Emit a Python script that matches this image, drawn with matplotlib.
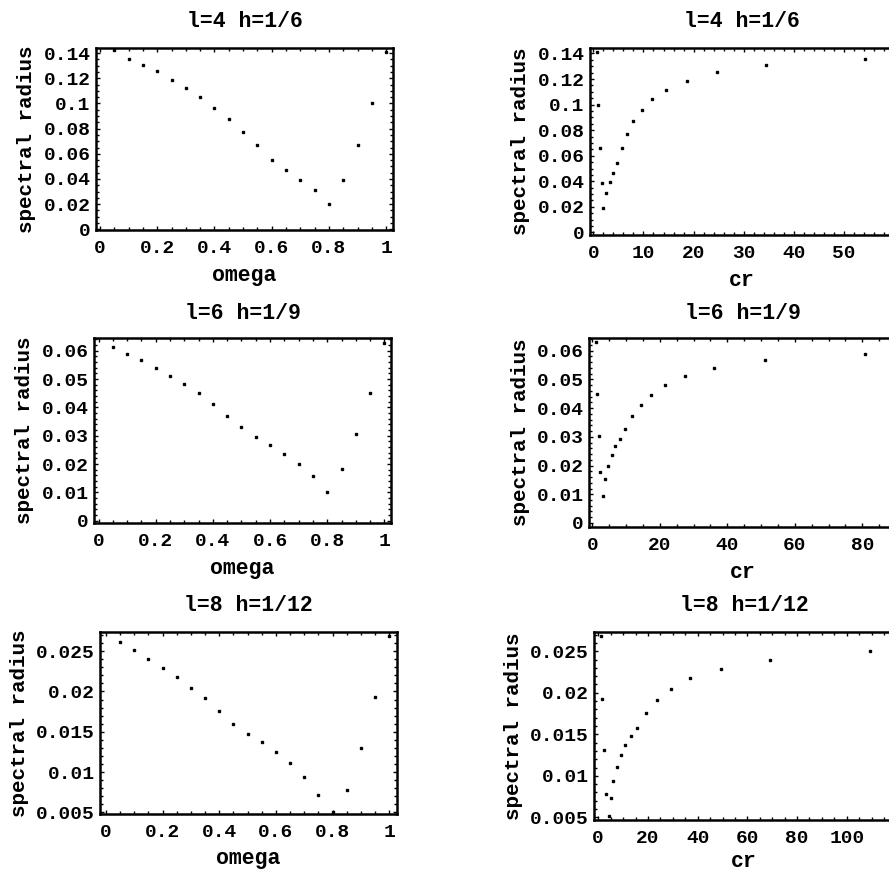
import numpy as np
import matplotlib
matplotlib.use("Agg")
import matplotlib.pyplot as plt
from matplotlib.ticker import MultipleLocator, FuncFormatter, AutoMinorLocator

plt.rcParams['font.family'] = ['Liberation Mono', 'DejaVu Sans Mono']
plt.rcParams['font.weight'] = 'bold'

# ---------------- data ----------------
omega = [0.05, 0.10, 0.15, 0.20, 0.25, 0.30, 0.35, 0.40, 0.45, 0.50,
         0.55, 0.60, 0.65, 0.70, 0.75, 0.80, 0.85, 0.90, 0.95, 1.00]

sr_l4_omega = [0.1427, 0.1355, 0.1307, 0.1254, 0.1188, 0.1119, 0.1047, 0.0963, 0.0878, 0.0774,
               0.0666, 0.0549, 0.0469, 0.0395, 0.0316, 0.0204, 0.0395, 0.0671, 0.1002, 0.1408]
sr_l6_omega = [0.0613, 0.0589, 0.0568, 0.0538, 0.0511, 0.0483, 0.0450, 0.0412, 0.0371, 0.0332,
               0.0296, 0.0269, 0.0237, 0.0200, 0.0158, 0.0102, 0.0182, 0.0305, 0.0452, 0.0629]
sr_l8_omega = [0.02615, 0.02512, 0.02409, 0.02297, 0.02182, 0.02046, 0.01914, 0.01757, 0.01592, 0.01473,
               0.0137, 0.01254, 0.0111, 0.00945, 0.00718, 0.0051, 0.0078, 0.01304, 0.01934, 0.02689]

cr_l4 = [0.67, 1.0, 1.33, 1.67, 2.0, 2.47, 3.33, 3.87, 4.67, 5.67,
         6.67, 8.0, 9.67, 11.8, 14.5, 18.7, 24.7, 34.5, 54.3]
sr_l4_cr = [0.1409, 0.0999, 0.0664, 0.0390, 0.0193, 0.0306, 0.0392, 0.0463, 0.0541, 0.0664,
            0.0769, 0.0873, 0.0959, 0.1046, 0.1116, 0.1187, 0.1252, 0.1307, 0.1359]

cr_l6 = [1.0, 1.5, 1.9, 2.3, 3.1, 3.6, 4.75, 5.7, 6.7, 8.2,
         9.7, 11.6, 14.3, 17.3, 21.6, 27.5, 36.2, 51.3, 80.7]
sr_l6_cr = [0.0630, 0.0449, 0.0302, 0.0177, 0.0095, 0.0153, 0.0197, 0.0236, 0.0267, 0.0291,
            0.0328, 0.0371, 0.0412, 0.0447, 0.0481, 0.0510, 0.0539, 0.0566, 0.0589]

cr_l8 = [1.1, 1.7, 2.4, 3.1, 4.2, 5.1, 6.0, 7.4, 9.1, 10.9,
         13.0, 15.8, 19.2, 23.5, 29.1, 36.9, 49.3, 69.1, 109.4]
sr_l8_cr = [0.02684, 0.01923, 0.0131, 0.0078, 0.0052, 0.00728, 0.00937, 0.0111, 0.0125, 0.0137,
            0.0148, 0.0158, 0.0176, 0.0191, 0.0205, 0.0218, 0.0229, 0.0240, 0.0250]

titles = ["l=4 h=1/6", "l=6 h=1/9", "l=8 h=1/12"]

# ---------------- layout ----------------
W, H = 889, 875
fig = plt.figure(figsize=(W / 100, H / 100), dpi=100)
fig.patch.set_facecolor('white')

def add_ax(left, right, top, bottom):
    return fig.add_axes([left / W, 1 - bottom / H, (right - left) / W, (bottom - top) / H])

fmt = FuncFormatter(lambda v, p: ("%g" % round(v, 6)))

def style(ax, title, xlabel, xmaj, xmin_, ymaj, yminor_div, title_pad,
          right_ticks=True, xlabelpad=6):
    for s in ax.spines.values():
        s.set_linewidth(1.8)
        s.set_color('black')
    ax.xaxis.set_major_locator(MultipleLocator(xmaj))
    ax.xaxis.set_minor_locator(MultipleLocator(xmin_))
    ax.yaxis.set_major_locator(MultipleLocator(ymaj))
    ax.yaxis.set_minor_locator(AutoMinorLocator(yminor_div))
    ax.xaxis.set_major_formatter(fmt)
    ax.yaxis.set_major_formatter(fmt)
    ax.tick_params(which='both', direction='in', top=True, right=right_ticks, width=1.0,
                   colors='black', labelsize=14)
    ax.tick_params(which='major', length=3)
    ax.tick_params(which='minor', length=2)
    ax.tick_params(axis='x', pad=7)
    ax.tick_params(axis='y', pad=4)
    for lab in ax.get_xticklabels() + ax.get_yticklabels():
        lab.set_fontweight('bold')
    ax.set_title(title, fontsize=15.5, fontweight='bold', pad=title_pad)
    ax.set_xlabel(xlabel, fontsize=15.5, fontweight='bold', labelpad=xlabelpad)
    ax.set_ylabel("spectral radius", fontsize=15, fontweight='bold', labelpad=5)

mk = dict(marker='s', markersize=1.6, color='black', linestyle='none', clip_on=True)

# Row 1
ax1 = add_ax(96, 393, 48, 230)
ax1.plot(omega, sr_l4_omega, **mk)
ax1.set_xlim(-0.014, 1.024)
ax1.set_ylim(-0.0005, 0.144)
style(ax1, titles[0], "omega", 0.2, 0.05, 0.02, 4, 15)

ax2 = add_ax(590, 893, 48, 235)
ax2.plot(cr_l4, sr_l4_cr, **mk)
ax2.set_xlim(-0.67, 59.8)
ax2.set_ylim(-0.002, 0.1443)
style(ax2, titles[0], "cr", 10, 2, 0.02, 4, 15, right_ticks=False)

# Row 2
ax3 = add_ax(94, 391, 338, 523)
ax3.plot(omega, sr_l6_omega, **mk)
ax3.set_xlim(-0.016, 1.023)
ax3.set_ylim(-0.0008, 0.0645)
style(ax3, titles[1], "omega", 0.2, 0.05, 0.01, 5, 14)

ax4 = add_ax(589, 896, 338, 527)
ax4.plot(cr_l6, sr_l6_cr, **mk)
ax4.set_xlim(-1.0, 90)
ax4.set_ylim(-0.0014, 0.0644)
style(ax4, titles[1], "cr", 20, 5, 0.01, 5, 14, right_ticks=False)

# Row 3
ax5 = add_ax(100, 397, 632, 814)
ax5.plot(omega, sr_l8_omega, **mk)
ax5.set_xlim(-0.021, 1.027)
ax5.set_ylim(0.0048, 0.02738)
style(ax5, titles[2], "omega", 0.2, 0.05, 0.005, 5, 15, xlabelpad=5)

ax6 = add_ax(594, 894, 632, 820)
ax6.plot(cr_l8, sr_l8_cr, **mk)
ax6.set_xlim(-1.7, 119)
ax6.set_ylim(0.00468, 0.02732)
style(ax6, titles[2], "cr", 20, 5, 0.005, 5, 15, right_ticks=False, xlabelpad=3)

fig.savefig("out.png", dpi=100, facecolor='white')
